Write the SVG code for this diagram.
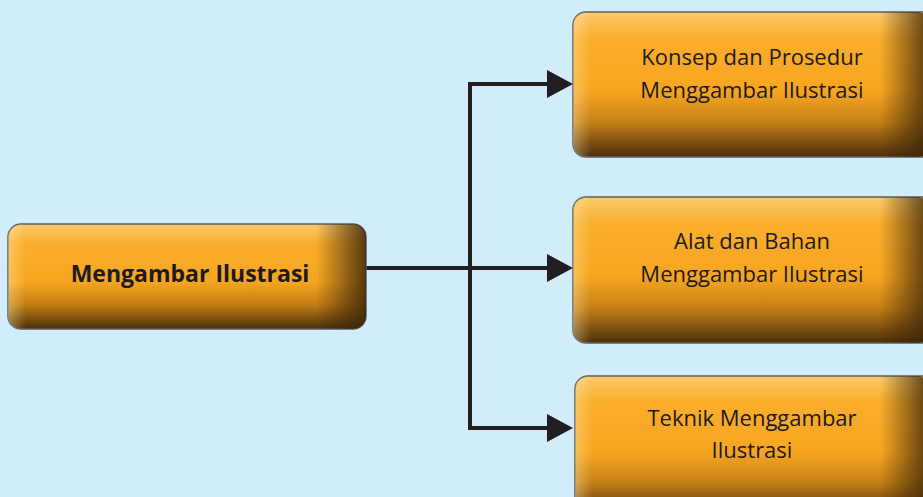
<svg xmlns="http://www.w3.org/2000/svg" width="923" height="497" viewBox="0 0 923 497">
<defs>
<linearGradient id="gv" x1="0" y1="0" x2="0" y2="1">
<stop offset="0" stop-color="#fcca6c"/>
<stop offset="0.18" stop-color="#f9ae2c"/>
<stop offset="0.55" stop-color="#f7a51f"/>
<stop offset="0.76" stop-color="#c48016"/>
<stop offset="1" stop-color="#4c2f0c"/>
</linearGradient>
<linearGradient id="gh" x1="0" y1="0" x2="1" y2="0">
<stop offset="0" stop-color="#fff3c0" stop-opacity="0.35"/>
<stop offset="0.05" stop-color="#fff3c0" stop-opacity="0"/>
<stop offset="0.86" stop-color="#3a2408" stop-opacity="0"/>
<stop offset="1" stop-color="#3a2408" stop-opacity="0.85"/>
</linearGradient>
<style>
.box{fill:url(#gv);stroke:#5e5e5e;stroke-width:1.5}
.ov{fill:url(#gh)}
.t{font-family:"Open Sans","Liberation Sans",sans-serif;font-size:22px;fill:#1c1a22;text-anchor:middle}
.tb{font-weight:bold;font-size:23px}
.ln{fill:none;stroke:#231f20;stroke-width:4}
.ah{fill:#231f20}
</style>
</defs>
<rect width="923" height="497" fill="#d1ecfa"/>
<g id="connectors">
<path class="ln" d="M366,268 H550"/>
<path class="ln" d="M550,84 H470 V428 H550"/>
<path class="ah" d="M547,70 L573,84 L547,98 z"/>
<path class="ah" d="M547,254 L573,268 L547,282 z"/>
<path class="ah" d="M547,414 L573,428 L547,442 z"/>
</g>
<g id="n0">
<rect class="box" x="8" y="224" width="358" height="105" rx="13"/>
<rect class="ov" x="8" y="224" width="358" height="105" rx="13"/>
<text class="t tb" x="190" y="282">Mengambar Ilustrasi</text>
</g>
<g id="n1">
<rect class="box" x="573" y="12" width="370" height="145" rx="13"/>
<rect class="ov" x="573" y="12" width="357" height="145" rx="13"/>
<text class="t" x="752" y="65">Konsep dan Prosedur</text>
<text class="t" x="752" y="98">Menggambar Ilustrasi</text>
</g>
<g id="n2">
<rect class="box" x="573" y="197" width="370" height="146" rx="13"/>
<rect class="ov" x="573" y="197" width="357" height="146" rx="13"/>
<text class="t" x="752" y="249">Alat dan Bahan</text>
<text class="t" x="752" y="282">Menggambar Ilustrasi</text>
</g>
<g id="n3">
<rect class="box" x="575" y="376" width="370" height="140" rx="13"/>
<rect class="ov" x="575" y="376" width="355" height="140" rx="13"/>
<text class="t" x="752" y="426">Teknik Menggambar</text>
<text class="t" x="752" y="458">Ilustrasi</text>
</g>
</svg>
